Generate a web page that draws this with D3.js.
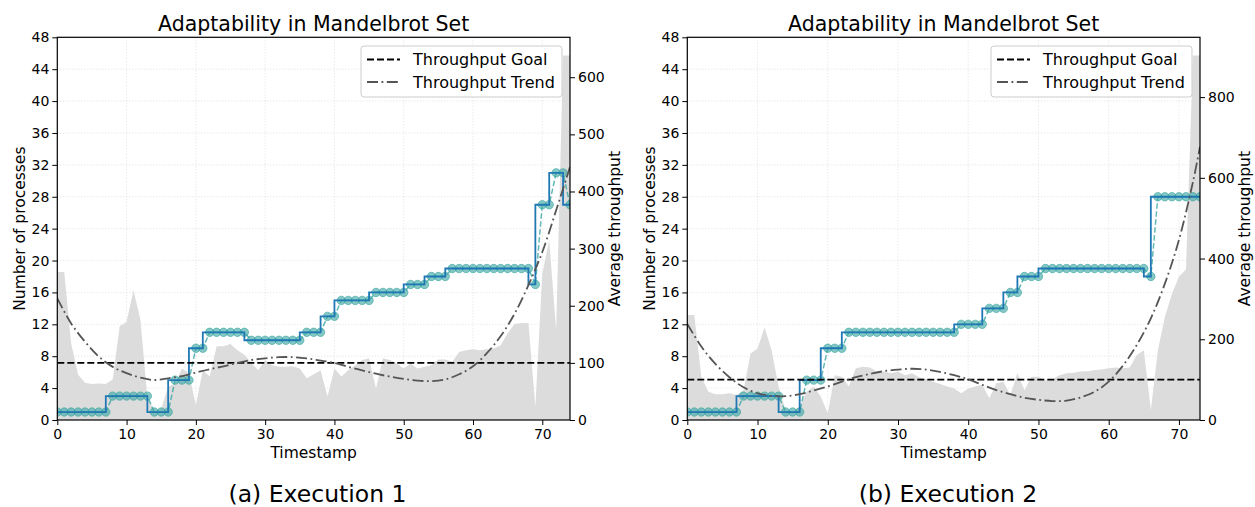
<!DOCTYPE html>
<html>
<head>
<meta charset="utf-8">
<script src="https://cdn.jsdelivr.net/npm/d3@7"></script>
<style>
body { margin: 0; background: #fff; }
text { font-family: "DejaVu Sans", sans-serif; fill: #000; }
</style>
</head>
<body>
<script>
// ### Data read from the two executions ###
var timestampsA = d3.range(0, 75);
var processesA = [1,1,1,1,1,1,1,1, 3,3,3,3,3,3, 1,1,1, 5,5,5, 9,9, 11,11,11,11,11,11,
    10,10,10,10,10,10,10,10, 11,11,11, 13,13, 15,15,15,15,15, 16,16,16,16,16, 17,17,17,
    18,18,18, 19,19,19,19,19,19,19,19,19,19,19,19, 17, 27,27, 31,31, 27];
var throughputA = [259,259,134,79,65,63,64,63,71,164, 172,227,175,40,15,20,58,64,90,82,
    26,87,76,129,129,133,122,114,100,87, 105,96,93,93,94,90,73,80,87,41,
    90,76,87,96,105,108,55,108,105,99, 90,99,90,93,96,106,106,102,119,122,
    124,122,124,125,131,152,168,170,170,23, 256,315,157,638,638];
var trendTimesA = [0,2,4,6,8,10,12,14,16,18,20,22,24,26,28,30,32,34,36,38,40,42,44,46,48,50,52,54,56,58,60,62,64,66,68,70,72,74];
var trendA = [213,169,137,111,93,82,74,70,73,77,83,89,94,100,105,108,110,110,108,104,100,93,87,81,76,72,69,68,71,80,94,117,147,186,236,294,367,443];

var timestampsB = d3.range(0, 74);
var processesB = [1,1,1,1,1,1,1,1, 3,3,3,3,3,3, 1,1,1, 5,5,5, 9,9,9,
    11,11,11,11,11,11,11,11,11,11,11,11,11,11,11,11, 12,12,12,12, 14,14,14, 16,16, 18,18,18,
    19,19,19,19,19,19,19,19,19,19,19,19,19,19,19, 18, 28,28,28,28,28,28,28];
var throughputB = [260,260,107,70,64,64,66,62,74,165, 177,229,173,83,25,21,33,70,83,58,
    17,111,107,83,128,132,130,120,120,116, 120,111,116,106,101,95,89,83,78,66,
    78,83,87,54,91,95,62,116,74,107, 107,97,101,111,116,117,120,121,124,125,
    128,130,128,130,161,173,25,173,255,312, 355,373,903,903];
var trendTimesB = [0,2,4,6,8,10,12,14,16,18,20,22,24,26,28,30,32,34,36,38,40,42,44,46,48,50,52,54,56,58,60,62,64,66,68,70,72,73];
var trendB = [238,182,139,106,81,66,60,59,64,73,83,95,106,114,121,125,127,125,119,111,101,87,74,64,55,50,47,48,56,70,95,134,186,252,338,446,590,677];

var goalThroughput = 100;
var processTicks = [0,4,8,12,16,20,24,28,32,36,40,44,48];
var timeTicks = [0,10,20,30,40,50,60,70];
var throughputTicksA = [0,100,200,300,400,500,600];
var throughputTicksB = [0,200,400,600,800];

var svg = d3.select("body").append("svg")
    .attr("width", 1255).attr("height", 507);

var top0 = 37.3, bottom0 = 420;
var stepColor = "#1f77b4", markColor = "#3aa6a2", fillColor = "#dcdcdc";

// ### Draw one execution panel ###
function panel(cfg) {
    var x = d3.scaleLinear().domain([0, cfg.xMax]).range([cfg.left, cfg.right]);
    var y = d3.scaleLinear().domain([0, 48]).range([bottom0, top0]);
    var y2 = d3.scaleLinear().domain([0, d3.max(cfg.throughput) * 1.05]).range([bottom0, top0]);

    var g = svg.append("g");
    var clipId = "clip" + cfg.id;
    g.append("clipPath").attr("id", clipId).append("rect")
        .attr("x", cfg.left).attr("y", top0)
        .attr("width", cfg.right - cfg.left).attr("height", bottom0 - top0);

    var plot = g.append("g").attr("clip-path", "url(#" + clipId + ")");

    // grid
    plot.selectAll(".vgrid").data(timeTicks).enter().append("line")
        .attr("x1", d => x(d)).attr("x2", d => x(d))
        .attr("y1", top0).attr("y2", bottom0)
        .attr("stroke", "#d9d9d9").attr("stroke-width", 0.8).attr("stroke-dasharray", "1,2");
    plot.selectAll(".hgrid").data(processTicks).enter().append("line")
        .attr("x1", cfg.left).attr("x2", cfg.right)
        .attr("y1", d => y(d)).attr("y2", d => y(d))
        .attr("stroke", "#d9d9d9").attr("stroke-width", 0.8).attr("stroke-dasharray", "1,2");

    // throughput area
    var area = d3.area()
        .x((d, i) => x(cfg.times[i]))
        .y0(y2(0))
        .y1(d => y2(d));
    plot.append("path").datum(cfg.throughput)
        .attr("d", area).attr("fill", fillColor);

    // processes: dashed line with markers
    var line = d3.line().x((d, i) => x(cfg.times[i])).y(d => y(d));
    plot.append("path").datum(cfg.processes)
        .attr("d", line).attr("fill", "none")
        .attr("stroke", markColor).attr("stroke-opacity", 0.8)
        .attr("stroke-width", 1.5).attr("stroke-dasharray", "5.5,2.5");
    plot.selectAll(".mark").data(cfg.processes).enter().append("circle")
        .attr("cx", (d, i) => x(cfg.times[i])).attr("cy", d => y(d))
        .attr("r", 4.2)
        .attr("fill", markColor).attr("fill-opacity", 0.62)
        .attr("stroke", markColor).attr("stroke-opacity", 0.62).attr("stroke-width", 1);

    // processes: step line
    var step = d3.line().curve(d3.curveStepBefore)
        .x((d, i) => x(cfg.times[i])).y(d => y(d));
    plot.append("path").datum(cfg.processes)
        .attr("d", step).attr("fill", "none")
        .attr("stroke", stepColor).attr("stroke-width", 1.8);

    // goal line
    plot.append("line")
        .attr("x1", cfg.left).attr("x2", cfg.right)
        .attr("y1", y2(goalThroughput)).attr("y2", y2(goalThroughput))
        .attr("stroke", "#000").attr("stroke-width", 1.9).attr("stroke-dasharray", "7,3");

    // trend line
    var trend = d3.line().curve(d3.curveCatmullRom)
        .x((d, i) => x(cfg.trendTimes[i])).y(d => y2(d));
    plot.append("path").datum(cfg.trend)
        .attr("d", trend).attr("fill", "none")
        .attr("stroke", "#555").attr("stroke-width", 1.8)
        .attr("stroke-dasharray", "11,3.5,1.8,3.5");

    // axes
    var ax = g.append("g").attr("transform", "translate(0," + bottom0 + ")")
        .call(d3.axisBottom(x).tickValues(timeTicks).tickSize(5).tickPadding(4).tickSizeOuter(0));
    var ayl = g.append("g").attr("transform", "translate(" + cfg.left + ",0)")
        .call(d3.axisLeft(y).tickValues(processTicks).tickSize(5).tickPadding(3).tickSizeOuter(0));
    var ayr = g.append("g").attr("transform", "translate(" + cfg.right + ",0)")
        .call(d3.axisRight(y2).tickValues(cfg.rightTicks).tickSize(5).tickPadding(3).tickSizeOuter(0));
    [ax, ayl, ayr].forEach(function(a) {
        a.select(".domain").remove();
        a.selectAll("text").style("font-size", "14px").attr("fill", "#000");
        a.selectAll("line").attr("stroke", "#000").attr("stroke-width", 1);
    });

    g.append("rect")
        .attr("x", cfg.left).attr("y", top0)
        .attr("width", cfg.right - cfg.left).attr("height", bottom0 - top0)
        .attr("fill", "none").attr("stroke", "#000").attr("stroke-width", 1.2);

    // labels
    var mid = (cfg.left + cfg.right) / 2;
    g.append("text").attr("x", mid).attr("y", 31)
        .attr("text-anchor", "middle").style("font-size", "20.5px")
        .text("Adaptability in Mandelbrot Set");
    g.append("text").attr("x", mid).attr("y", 458)
        .attr("text-anchor", "middle").style("font-size", "15.5px")
        .text("Timestamp");
    g.append("text")
        .attr("transform", "translate(" + (cfg.left - 32) + "," + ((top0 + bottom0) / 2) + ") rotate(-90)")
        .attr("text-anchor", "middle").style("font-size", "15.5px")
        .text("Number of processes");
    g.append("text")
        .attr("transform", "translate(" + (cfg.right + 50) + "," + ((top0 + bottom0) / 2) + ") rotate(-90)")
        .attr("text-anchor", "middle").style("font-size", "15.5px")
        .text("Average throughput");
    g.append("text").attr("x", cfg.captionX).attr("y", 502)
        .attr("text-anchor", "middle").style("font-size", "23.5px")
        .text(cfg.caption);

    // legend
    var lg = g.append("g").attr("transform", "translate(" + (cfg.right - 209) + ",46)");
    lg.append("rect").attr("width", 201).attr("height", 51).attr("rx", 3)
        .attr("fill", "#fff").attr("fill-opacity", 0.85)
        .attr("stroke", "#cccccc").attr("stroke-width", 1);
    lg.append("line").attr("x1", 6).attr("x2", 39).attr("y1", 13.5).attr("y2", 13.5)
        .attr("stroke", "#000").attr("stroke-width", 1.9).attr("stroke-dasharray", "7,3");
    lg.append("line").attr("x1", 6).attr("x2", 39).attr("y1", 36).attr("y2", 36)
        .attr("stroke", "#555").attr("stroke-width", 1.8).attr("stroke-dasharray", "11,3.5,1.8,3.5");
    lg.append("text").attr("x", 52).attr("y", 19).style("font-size", "16px").text("Throughput Goal");
    lg.append("text").attr("x", 52).attr("y", 41.5).style("font-size", "16px").text("Throughput Trend");
}

panel({id: "A", left: 57.3, right: 570, xMax: 74,
    times: timestampsA, processes: processesA, throughput: throughputA,
    trendTimes: trendTimesA, trend: trendA, rightTicks: throughputTicksA,
    caption: "(a) Execution 1", captionX: 317.5});
panel({id: "B", left: 687.3, right: 1200, xMax: 73,
    times: timestampsB, processes: processesB, throughput: throughputB,
    trendTimes: trendTimesB, trend: trendB, rightTicks: throughputTicksB,
    caption: "(b) Execution 2", captionX: 948});
</script>
</body>
</html>
